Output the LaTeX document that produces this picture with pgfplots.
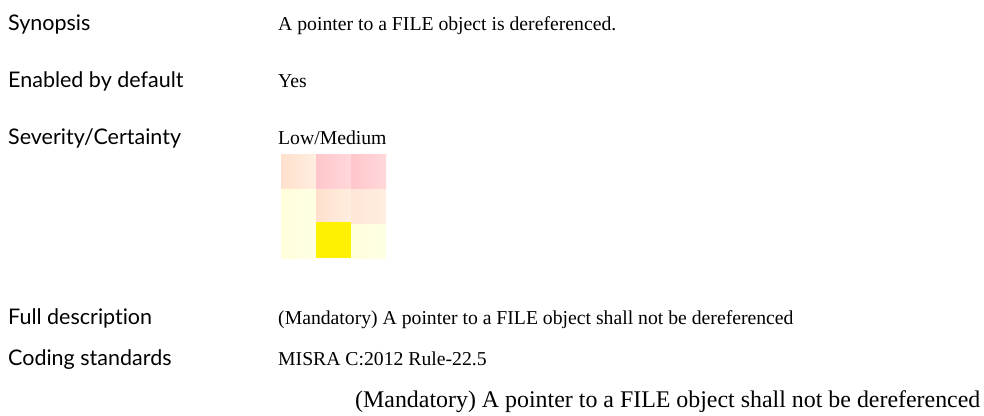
\documentclass[border=0pt]{standalone}
\usepackage{fontspec}
\setmainfont{Liberation Serif}
\newfontfamily\labelfont[Ligatures=NoCommon]{Lato}
\usepackage{pgfplots}
\pgfplotsset{compat=1.18}
\definecolor{peachA}{HTML}{FFE0CC}
\definecolor{peachB}{HTML}{FFEEE0}
\definecolor{pinkA}{HTML}{FFC6CB}
\definecolor{pinkB}{HTML}{FFD8DA}
\definecolor{lyel}{HTML}{FFFFDC}
\definecolor{lyelB}{HTML}{FFFFE4}
\definecolor{yel}{HTML}{FFF200}
\newcommand\Lb[1]{{\labelfont\fontsize{21.5}{24}\selectfont #1}}
\newcommand\Tx[1]{{\fontsize{19.7}{23}\selectfont #1}}
\newcommand\Tl[1]{{\fontsize{23.9}{27}\selectfont #1}}
\begin{document}
\begin{tikzpicture}
\begin{axis}[width=984pt,height=415pt,scale only axis,
  xmin=0,xmax=984,ymin=0,ymax=415,y dir=reverse,hide axis,clip=false]
% severity/certainty grid cells
\addplot[draw=none,left color=peachA,right color=peachB] coordinates {(281,154) (316,154) (316,189) (281,189)} -- cycle;
\addplot[draw=none,left color=pinkA,right color=pinkB] coordinates {(316,154) (351,154) (351,189) (316,189)} -- cycle;
\addplot[draw=none,left color=pinkA,right color=pinkB] coordinates {(351,154) (386,154) (386,189) (351,189)} -- cycle;
\addplot[draw=none,left color=lyel,right color=lyelB] coordinates {(281,189) (316,189) (316,224) (281,224)} -- cycle;
\addplot[draw=none,left color=peachA,right color=peachB] coordinates {(316,189) (351,189) (351,222) (316,222)} -- cycle;
\addplot[draw=none,left color=peachA!80!white,right color=peachB] coordinates {(351,189) (386,189) (386,224) (351,224)} -- cycle;
\addplot[draw=none,left color=lyel,right color=lyelB] coordinates {(281,224) (316,224) (316,258) (281,258)} -- cycle;
\addplot[draw=none,fill=yel] coordinates {(316,222) (351,222) (351,258) (316,258)} -- cycle;
\addplot[draw=none,left color=lyel,right color=lyelB] coordinates {(351,224) (386,224) (386,258) (351,258)} -- cycle;
% labels
\node[anchor=base west,inner sep=0] at (axis cs:8,30) {\Lb{Synopsis}};
\node[anchor=base west,inner sep=0] at (axis cs:8,87) {\Lb{Enabled by default}};
\node[anchor=base west,inner sep=0] at (axis cs:8,144) {\Lb{Severity/Certainty}};
\node[anchor=base west,inner sep=0] at (axis cs:8,324) {\Lb{Full description}};
\node[anchor=base west,inner sep=0] at (axis cs:8,365) {\Lb{Coding standards}};
% values
\node[anchor=base west,inner sep=0] at (axis cs:278,30) {\Tx{A pointer to a FILE object is dereferenced.}};
\node[anchor=base west,inner sep=0] at (axis cs:278,87) {\Tx{Yes}};
\node[anchor=base west,inner sep=0] at (axis cs:278,144) {\Tx{Low/Medium}};
\node[anchor=base west,inner sep=0] at (axis cs:278,324) {\Tx{(Mandatory) A pointer to a FILE object shall not be dereferenced}};
\node[anchor=base west,inner sep=0] at (axis cs:278,365) {\Tx{MISRA C:2012 Rule-22.5}};
\node[anchor=base west,inner sep=0] at (axis cs:355,407) {\Tl{(Mandatory) A pointer to a FILE object shall not be dereferenced}};
\end{axis}
\pgfresetboundingbox
\path (current axis.south west) rectangle (current axis.north east);
\end{tikzpicture}
\end{document}
